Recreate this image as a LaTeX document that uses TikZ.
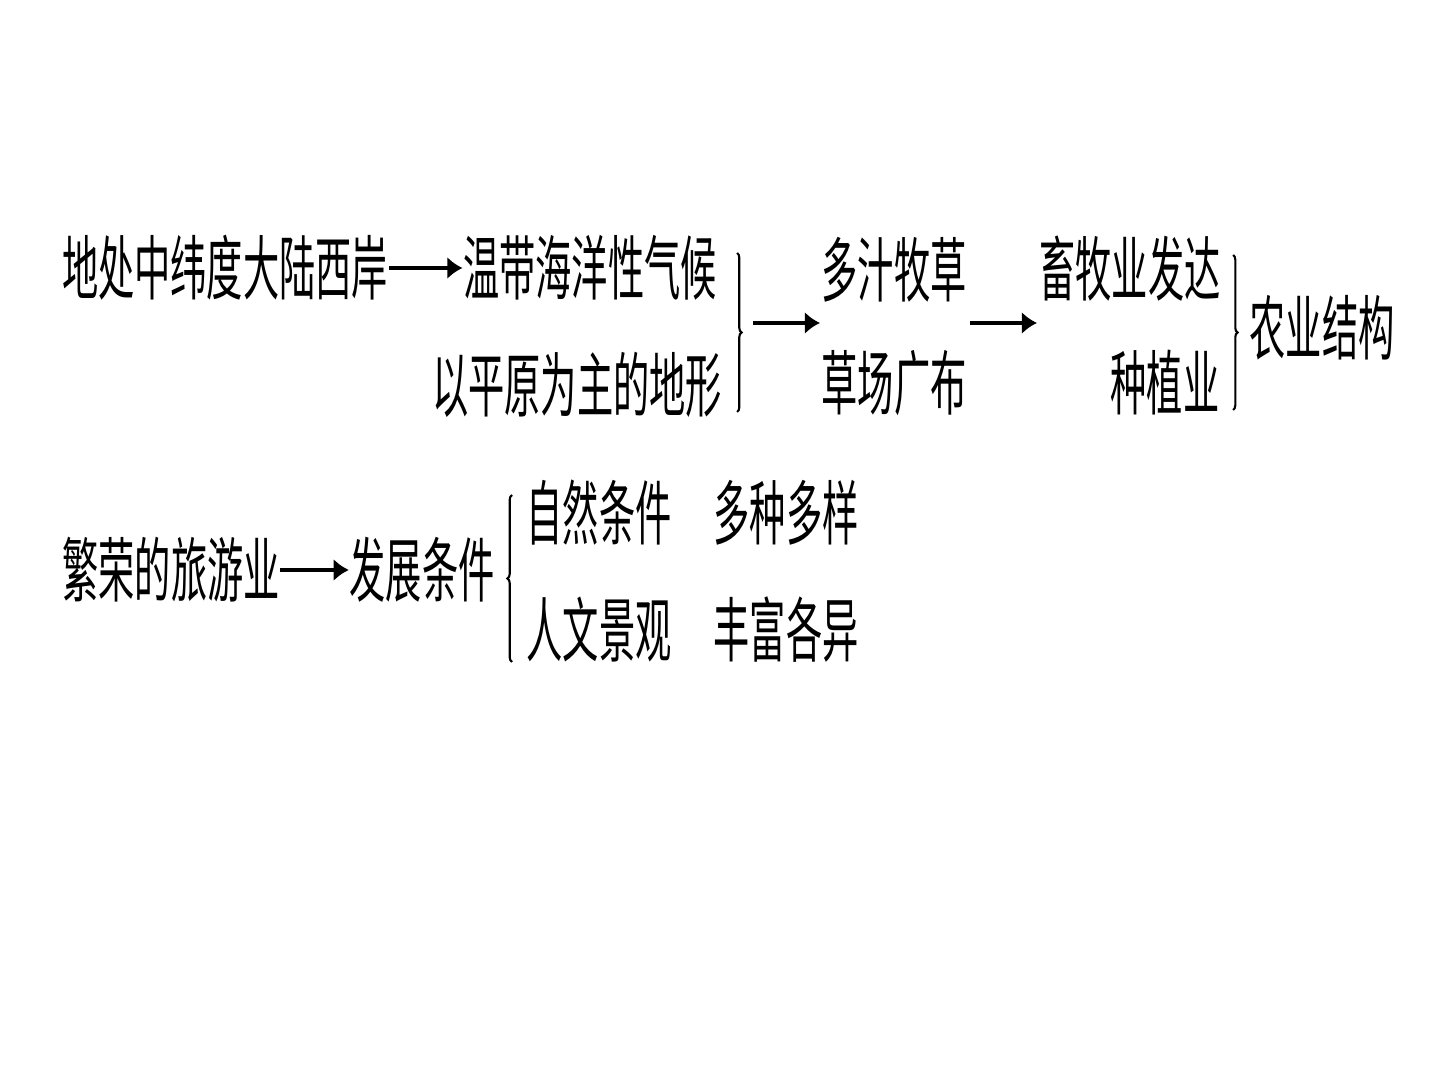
\documentclass[tikz,border=0pt]{standalone}
\usepackage{fontspec}
\newfontfamily\cjk[FakeStretch=0.515]{Noto Sans CJK SC}
\usetikzlibrary{arrows.meta, decorations.pathreplacing}

\begin{document}
\begin{tikzpicture}[x=0.01cm, y=-0.01cm,
    every node/.style={font=\cjk\fontsize{20}{24}\selectfont, inner sep=0pt},
    arr/.style={line width=1.2pt, -{Latex[length=4.3pt,width=6.3pt]}},
    brc/.style={line width=0.6pt, decorate, decoration={brace, amplitude=1.3pt}}]
  \useasboundingbox (0,0) rectangle (1440,1080);
  % first chain
  \node (loc) at (225,268) {地处中纬度大陆西岸};
  \node (climate) at (590,268) {温带海洋性气候};
  \node (terrain) at (577,385) {以平原为主的地形};
  \draw[arr] (loc.east) -- (climate.west);
  \coordinate (b1top) at (737,253);
  \coordinate (b1bot) at (737,412);
  \draw[brc] (b1top) -- (b1bot);
  \coordinate (a2start) at (753,323);
  \coordinate (a2end) at (820,323);
  \draw[arr] (a2start) -- (a2end);
  \node (grass) at (894,270) {多汁牧草};
  \node (pasture) at (894,383) {草场广布};
  \coordinate (a3start) at (970,323);
  \coordinate (a3end) at (1037,323);
  \draw[arr] (a3start) -- (a3end);
  \node (herd) at (1130,269) {畜牧业发达};
  \node (crop) at (1165,383) {种植业};
  \coordinate (b2top) at (1233,255);
  \coordinate (b2bot) at (1233,410);
  \draw[brc] (b2top) -- (b2bot);
  \node (agri) at (1322,328) {农业结构};
  % second chain
  \node (tour) at (171,570) {繁荣的旅游业};
  \node (cond) at (422,570) {发展条件};
  \draw[arr] (tour.east) -- (cond.west);
  \coordinate (b3top) at (512,495);
  \coordinate (b3bot) at (512,662);
  \draw[brc] (b3bot) -- (b3top);
  \node (nat) at (599,513) {自然条件};
  \node (natv) at (786,513) {多种多样};
  \node (cult) at (599,630) {人文景观};
  \node (cultv) at (786,630) {丰富各异};
\end{tikzpicture}
\end{document}
